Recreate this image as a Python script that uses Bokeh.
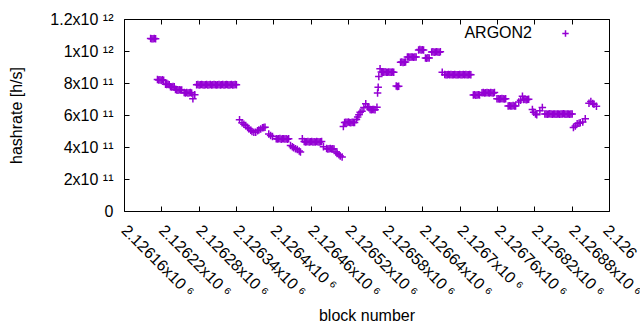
import math
from bokeh.plotting import figure
from bokeh.models import (ColumnDataSource, FixedTicker, LinearAxis, Label,
                          Legend, LegendItem, Range1d)
from bokeh.embed import file_html
from bokeh.resources import INLINE

# ---------------- data ----------------
E11 = 1e11  # rates below are in units of 1e11 h/s

blocks_a = [2126202, 2126204, 2126206, 2126208, 2126210,
            2126213, 2126215, 2126217, 2126219, 2126221, 2126223,
            2126226, 2126228, 2126230, 2126232,
            2126234, 2126236, 2126238, 2126240,
            2126242, 2126244, 2126246, 2126248, 2126250, 2126252,
            2126256, 2126258, 2126260, 2126262, 2126264, 2126266, 2126268,
            2126270, 2126273]
rate_a = [10.82, 10.80, 10.79, 10.81, 10.80,
          8.25, 8.22, 8.24, 8.20, 8.23, 8.21,
          7.95, 7.93, 7.96, 7.92,
          7.80, 7.78, 7.82, 7.79,
          7.62, 7.60, 7.58, 7.61, 7.59, 7.60,
          7.43, 7.41, 7.44, 7.40, 7.42, 7.43, 7.41,
          7.05, 7.30]

blocks_b = [2126276, 2126278, 2126280, 2126282, 2126284, 2126286, 2126288, 2126290, 2126292, 2126294, 2126296,
            2126298, 2126300, 2126302, 2126304, 2126306, 2126308, 2126310, 2126312, 2126314, 2126316, 2126318,
            2126320, 2126322, 2126324, 2126326, 2126328, 2126330, 2126332, 2126334, 2126336, 2126338, 2126340]
rate_b = [7.92, 7.93, 7.91, 7.92, 7.94, 7.92, 7.90, 7.92, 7.93, 7.91, 7.92,
          7.93, 7.91, 7.92, 7.94, 7.92, 7.90, 7.92, 7.93, 7.91, 7.92, 7.93,
          7.91, 7.92, 7.94, 7.92, 7.90, 7.92, 7.93, 7.91, 7.92, 7.93, 7.92]

blocks_c = [2126345, 2126349, 2126352, 2126355, 2126358, 2126360, 2126363, 2126365, 2126368, 2126371,
            2126374, 2126376, 2126379, 2126382, 2126384, 2126386, 2126392, 2126395, 2126398,
            2126404, 2126406, 2126408, 2126410, 2126412, 2126414, 2126416, 2126418, 2126420, 2126422, 2126424,
            2126427, 2126430, 2126432, 2126435, 2126438, 2126441, 2126443, 2126446]
rate_c = [5.73, 5.54, 5.45, 5.37, 5.25, 5.17, 5.08, 5.00, 4.96, 4.96,
          5.05, 5.10, 5.15, 5.23, 5.25, 5.27, 4.85, 4.75, 4.69,
          4.55, 4.53, 4.54, 4.56, 4.52, 4.54, 4.55, 4.53, 4.54, 4.52, 4.55,
          4.13, 4.05, 3.98, 3.92, 3.88, 3.78, 3.72, 4.54]

blocks_d = [2126449, 2126451, 2126453, 2126455, 2126457, 2126459, 2126461, 2126463, 2126465, 2126467,
            2126469, 2126471, 2126473, 2126475, 2126477,
            2126480,
            2126485, 2126487, 2126489, 2126491, 2126493, 2126495, 2126497,
            2126500, 2126502, 2126505, 2126507, 2126510]
rate_d = [4.37, 4.35, 4.36, 4.38, 4.34, 4.36, 4.37, 4.35, 4.36, 4.34,
          4.37, 4.36, 4.35, 4.36, 4.37,
          4.04,
          3.93, 3.91, 3.92, 3.94, 3.90, 3.92, 3.91,
          3.72, 3.62, 3.55, 3.47, 3.40]

blocks_e = [2126512, 2126514, 2126516, 2126518, 2126520, 2126522, 2126524, 2126526, 2126528, 2126530,
            2126533, 2126535, 2126537, 2126539, 2126542, 2126545, 2126548, 2126551, 2126553,
            2126555, 2126557, 2126559, 2126561, 2126563,
            2126566, 2126567, 2126568, 2126569, 2126571]
rate_e = [5.31, 5.57, 5.58, 5.56, 5.59, 5.57, 5.55, 5.58, 5.57, 5.56,
          5.75, 5.90, 6.05, 6.20, 6.27, 6.50, 6.73, 6.55, 6.48,
          6.37, 6.36, 6.38, 6.37, 6.36,
          6.52, 7.40, 7.77, 8.44, 8.92]

blocks_f = [2126573, 2126575, 2126577, 2126579, 2126581, 2126583, 2126585, 2126587, 2126589, 2126591, 2126593,
            2126597, 2126599, 2126601,
            2126604, 2126606, 2126608, 2126610, 2126612,
            2126615, 2126617, 2126619, 2126621, 2126623, 2126625, 2126627, 2126629,
            2126633, 2126635, 2126637, 2126639, 2126641,
            2126644, 2126646, 2126648, 2126650,
            2126654, 2126656, 2126658, 2126660, 2126662, 2126664, 2126666, 2126668]
rate_f = [8.72, 8.70, 8.71, 8.73, 8.70, 8.71, 8.72, 8.70, 8.71, 8.72, 8.70,
          7.85, 7.82, 7.83,
          9.33, 9.34, 9.32, 9.33, 9.35,
          9.65, 9.66, 9.64, 9.65, 9.66, 9.64, 9.65, 9.66,
          10.10, 10.12, 10.09, 10.11, 10.10,
          9.60, 9.58, 9.61, 9.60,
          9.97, 9.98, 9.96, 9.97, 9.98, 9.97, 9.96, 9.98]

blocks_g = [2126671,
            2126675, 2126677, 2126679, 2126681, 2126683, 2126685, 2126687, 2126689, 2126691, 2126693, 2126695,
            2126697, 2126699, 2126701, 2126703, 2126705, 2126707, 2126709, 2126711, 2126713, 2126715, 2126717,
            2126721, 2126723, 2126725, 2126727, 2126729, 2126731]
rate_g = [8.70,
          8.56, 8.55, 8.54, 8.56, 8.55, 8.57, 8.55, 8.54, 8.56, 8.55, 8.54,
          8.55, 8.56, 8.55, 8.54, 8.56, 8.55, 8.57, 8.55, 8.54, 8.56, 8.55,
          7.28, 7.29, 7.27, 7.28, 7.30, 7.28]

blocks_h = [2126735, 2126737, 2126739, 2126741, 2126743, 2126745, 2126747, 2126749, 2126751, 2126753, 2126755,
            2126759, 2126761, 2126763, 2126765, 2126767, 2126769, 2126771, 2126773,
            2126777, 2126779, 2126781, 2126783, 2126785, 2126787, 2126789,
            2126794, 2126797, 2126800,
            2126802, 2126804, 2126806, 2126808, 2126810]
rate_h = [7.42, 7.43, 7.41, 7.42, 7.44, 7.42, 7.41, 7.43, 7.42, 7.41, 7.43,
          7.04, 7.05, 7.03, 7.04, 7.06, 7.04, 7.03, 7.05,
          6.60, 6.61, 6.59, 6.60, 6.62, 6.60, 6.59,
          6.85, 6.95, 7.20,
          7.00, 7.01, 6.99, 7.00, 7.02]

blocks_i = [2126816, 2126818, 2126821, 2126823, 2126828, 2126832,
            2126836, 2126838, 2126840, 2126842, 2126844, 2126846, 2126848, 2126850, 2126852, 2126854, 2126856, 2126858,
            2126860, 2126862, 2126864, 2126866, 2126868, 2126870, 2126872, 2126874, 2126876, 2126878, 2126880,
            2126882, 2126885, 2126888, 2126891, 2126893, 2126897, 2126901,
            2126907, 2126910, 2126913, 2126915, 2126919]
rate_i = [6.38, 6.20, 6.10, 6.04, 6.30, 6.50,
          6.09, 6.10, 6.08, 6.09, 6.11, 6.09, 6.08, 6.10, 6.09, 6.08, 6.10, 6.09,
          6.08, 6.10, 6.09, 6.11, 6.09, 6.08, 6.10, 6.09, 6.08, 6.10, 6.09,
          5.25, 5.35, 5.48, 5.52, 5.55, 5.60, 5.79,
          6.77, 6.87, 6.75, 6.70, 6.58]

x_ticks = [2126160, 2126220, 2126280, 2126340, 2126400, 2126460, 2126520,
           2126580, 2126640, 2126700, 2126760, 2126820, 2126880, 2126940]
# the last label runs off the right edge of the picture; only its visible start is kept
x_tick_labels = ["2.12616x10 \u2076", "2.12622x10 \u2076", "2.12628x10 \u2076", "2.12634x10 \u2076",
                 "2.1264x10 \u2076", "2.12646x10 \u2076", "2.12652x10 \u2076", "2.12658x10 \u2076",
                 "2.12664x10 \u2076", "2.1267x10 \u2076", "2.12676x10 \u2076", "2.12682x10 \u2076",
                 "2.12688x10 \u2076", "2.126"]

y_ticks = [0, 2e11, 4e11, 6e11, 8e11, 1e12, 1.2e12]
y_tick_labels = ["0", "2x10 \u00b9\u00b9", "4x10 \u00b9\u00b9", "6x10 \u00b9\u00b9", "8x10 \u00b9\u00b9",
                 "1x10 \u00b9\u00b2", "1.2x10 \u00b9\u00b2"]

series_name = "ARGON2"
x_title = "block number"
y_title = "hashrate [h/s]"

# ---------------- assemble ----------------
all_blocks = (blocks_a + blocks_b + blocks_c + blocks_d + blocks_e +
              blocks_f + blocks_g + blocks_h + blocks_i)
all_rates = [r * E11 for r in (rate_a + rate_b + rate_c + rate_d + rate_e +
                               rate_f + rate_g + rate_h + rate_i)]
src = ColumnDataSource(dict(block=all_blocks, rate=all_rates))

FONT = "Liberation Sans"
COLOR = "#9400D3"

p = figure(width=640, height=330, output_backend="svg", toolbar_location=None,
           x_range=Range1d(x_ticks[0], x_ticks[-1]), y_range=Range1d(y_ticks[0], y_ticks[-1]),
           min_border_left=124, min_border_right=31, min_border_top=19, min_border_bottom=119,
           background_fill_color="white", border_fill_color="white")
p.grid.visible = False
p.outline_line_color = "black"
p.outline_line_width = 1

p.add_layout(LinearAxis(), "above")
p.add_layout(LinearAxis(), "right")
for ax in p.xaxis + p.yaxis:
    ax.axis_line_color = None
    ax.major_tick_in = 5
    ax.major_tick_out = 0
    ax.major_tick_line_color = "black"
    ax.minor_tick_line_color = None
    ax.major_label_text_font = FONT
    ax.major_label_text_font_size = "16px"
    ax.major_label_text_color = "black"
    ax.axis_label_text_font = FONT
    ax.axis_label_text_font_size = "16px"
    ax.axis_label_text_font_style = "normal"
    ax.axis_label_text_color = "black"
for ax in p.xaxis:
    ax.ticker = FixedTicker(ticks=x_ticks)
for ax in p.yaxis:
    ax.ticker = FixedTicker(ticks=y_ticks)

# mirrored axes: ticks only
p.above[0].major_label_overrides = {t: "" for t in x_ticks}
p.right[0].major_label_overrides = {v: "" for v in y_ticks}
p.above[0].major_label_standoff = 0
p.right[0].major_label_standoff = 0

bx = p.below[0]
bx.major_label_overrides = dict(zip(x_ticks, x_tick_labels))
bx.major_label_orientation = -math.pi / 4
bx.major_label_standoff = 16
bx.axis_label = x_title
bx.axis_label_standoff = -2

ly = p.left[0]
ly.major_label_overrides = dict(zip(y_ticks, y_tick_labels))
ly.major_label_standoff = 11
ly.axis_label = y_title
ly.axis_label_standoff = 22

r = p.scatter(x="block", y="rate", source=src, marker="cross", size=7.5,
              line_color=COLOR, line_width=1.5)

# legend sample (marker only) + its text placed gnuplot-style (text left of symbol)
leg = Legend(items=[LegendItem(label="", renderers=[r])], location=(433, 170),
             padding=0, margin=0, spacing=0, border_line_color=None,
             background_fill_alpha=0, glyph_width=16, glyph_height=16,
             label_width=0, label_height=0, label_standoff=0,
             label_text_font_size="1px")
p.add_layout(leg)
p.add_layout(Label(x=x_ticks[-1], y=y_ticks[-1], x_offset=-77.5, y_offset=-12.8,
                   text=series_name, text_align="right", text_baseline="middle",
                   text_font=FONT, text_font_size="16px", text_color="black"))

open("out.html", "w").write(file_html(p, INLINE))
